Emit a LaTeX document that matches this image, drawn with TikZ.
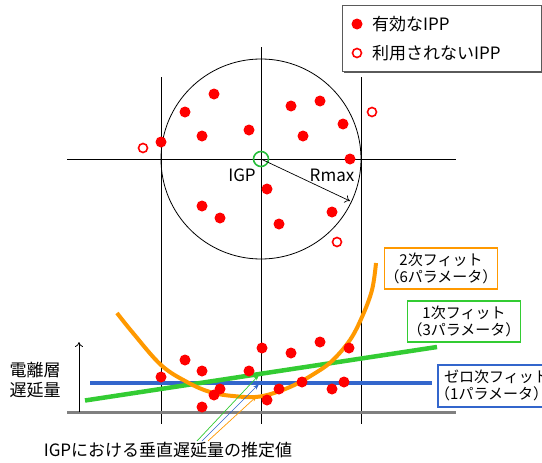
\documentclass[tikz,border=0pt]{standalone}
\usepackage{fontspec}
\setmainfont{Noto Sans CJK JP}
\usetikzlibrary{arrows.meta}
\definecolor{fitorange}{RGB}{255,153,0}
\definecolor{fitgreen}{RGB}{51,204,51}
\definecolor{fitblue}{RGB}{51,102,204}
\definecolor{igpgreen}{RGB}{40,190,60}
\definecolor{basegray}{RGB}{128,128,128}
\definecolor{boxgray}{RGB}{90,90,90}
\begin{document}
\begin{tikzpicture}[x=1pt,y=-1pt,
  ipp/.style={circle,fill=red,inner sep=0pt,minimum size=11pt},
  unused/.style={circle,draw=red,line width=1.6pt,fill=white,inner sep=0pt,minimum size=9pt},
  gridline/.style={black,line width=0.8pt},
  fitbox/.style={draw,line width=1.2pt,fill=white,inner sep=0pt,align=center,
    minimum width=112pt,minimum height=41pt,font=\fontsize{15}{17}\selectfont},
  fittext/.style={inner sep=0pt,anchor=west,font=\fontsize{15}{17}\selectfont},
  lbl/.style={font=\fontsize{17}{20}\selectfont,inner sep=0pt},
  fitline/.style={line width=4.5pt},
  estarrow/.style={line width=0.7pt,-{Stealth[length=6pt,width=4pt]}},
]
\useasboundingbox (0,0) rectangle (542,463);
\clip (0,0) rectangle (542,463);
\fill[white] (0,0) rectangle (542,463);

% ---- upper panel: grid and circle
\draw[gridline] (161,77) -- (161,424);
\draw[gridline] (261,47) -- (261,424);
\draw[gridline] (361,77) -- (361,424);
\draw[gridline] (67,159) -- (456,159);
\draw[gridline] (261,159) circle[radius=100pt];

% valid IPPs
\foreach \px/\py [count=\i] in {214/94,185/112,202/136,161/142,249/130,291/106,320/101,343/124,303/136,350/159,267/189,202/206,220/218,279/224,332/212}
  \node[ipp] (u\i) at (\px,\py) {};
% unused IPPs
\node[unused] (n1) at (143,148) {};
\node[unused] (n2) at (372,112) {};
\node[unused] (n3) at (337,242) {};

% IGP and Rmax
\node[circle,draw=igpgreen,line width=1.6pt,inner sep=0pt,minimum size=15pt] (igp) at (261,159) {};
\coordinate (rend) at (350,201);
\draw[line width=0.7pt,-{To[length=5pt,width=8pt]}] (igp.center) -- (rend);
\node[lbl] (igplbl) at (242,175) {IGP};
\node[lbl] (rmax) at (332,175) {Rmax};

% legend
\fill[boxgray] (344,7) rectangle (544,73);
\draw[boxgray,line width=0.8pt,fill=white] (342,5) rectangle (541,71);
\node[ipp] (leg1) at (357,24) {};
\node[lbl,anchor=west] (leg1t) at (372,24) {有効なIPP};
\node[unused] (leg2) at (357,53) {};
\node[lbl,anchor=west] (leg2t) at (372,53) {利用されないIPP};

% ---- lower panel
\draw[basegray,line width=3pt] (67,412.5) -- (456,412.5);
\coordinate (ybot) at (79,412);
\coordinate (ytop) at (79,342);
\draw[line width=0.8pt,-{To[length=5pt,width=8pt]}] (ybot) -- (ytop);
\node[lbl,align=center] (ylbl) at (35,380) {電離層\\遅延量};

\draw[fitblue,fitline] (90,383) -- (432,383);
\draw[fitgreen,fitline] (85,400.5) -- (437,347);
\draw[fitorange,line width=4pt] plot[smooth,tension=0.6] coordinates {
  (117,313) (133,333) (161,365) (187,382) (210,392) (233,396) (260,396.5)
  (290,387) (317,372) (333,360) (350,340) (362,317) (372,290) (376,263)};

\foreach \px/\py [count=\i] in {161/377,185/360,202/371,202/407,214/395,220/389,249/371,262/348,267/400,279/389,291/353,302/382,320/342,349/348,332/389,344/382}
  \node[ipp] (l\i) at (\px,\py) {};

% fit labels
\node[fitbox,draw=fitorange] (fit2) at (441,268.5) {2次フィット\\（6パラメータ）};
\node[fitbox,draw=fitgreen] (fit1) at (464,321.5) {1次フィット\\（3パラメータ）};
\draw[fitblue,line width=1.2pt,fill=white] (438,365) rectangle (570,407);
\node[fittext] (fit0a) at (444,377) {ゼロ次フィット};
\node[fittext] (fit0b) at (435,394) {（1パラメータ）};

% estimate arrows
\node[lbl] (est) at (168,450) {IGPにおける垂直遅延量の推定値};
\coordinate (g0) at (197,441);
\coordinate (g1) at (259,375);
\coordinate (b0) at (202,441);
\coordinate (b1) at (259,384);
\coordinate (o0) at (208,441);
\coordinate (o1) at (257,396);
\draw[estarrow,fitgreen] (g0) -- (g1);
\draw[estarrow,fitblue] (b0) -- (b1);
\draw[estarrow,fitorange] (o0) -- (o1);
\end{tikzpicture}
\end{document}
